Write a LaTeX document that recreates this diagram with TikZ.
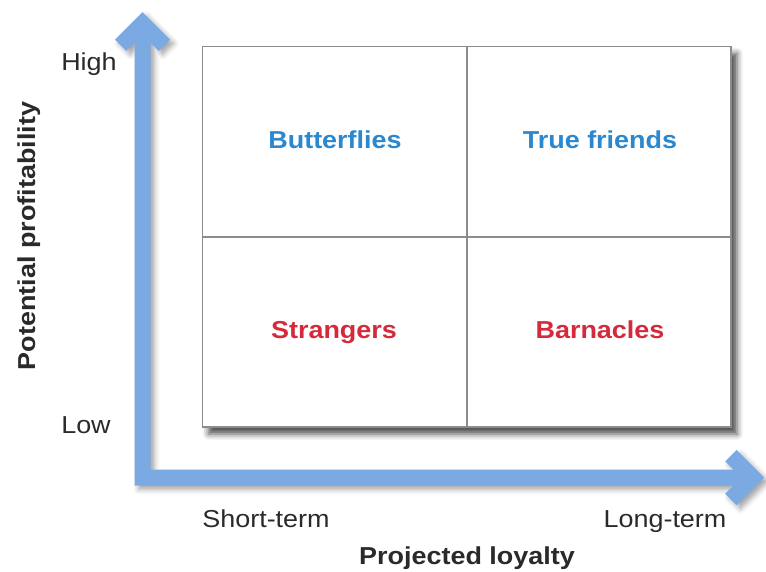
\documentclass[tikz,border=0pt]{standalone}
\usepackage{fontspec}
\setmainfont{Liberation Sans}[FakeStretch=1.1]
\usetikzlibrary{shadows.blur}
\definecolor{arrowblue}{HTML}{7BA9E2}
\definecolor{qblue}{HTML}{2B88CF}
\definecolor{qred}{HTML}{D42A3B}
\definecolor{boxgray}{HTML}{8C8C8C}
\definecolor{txtgray}{HTML}{2A2A2A}
\tikzset{
  lbl/.style={font=\fontsize{24.5}{28}\selectfont, text=txtgray, inner sep=0pt, anchor=base},
  axlbl/.style={font=\fontsize{24.5}{28}\selectfont\bfseries, text=txtgray, inner sep=0pt, anchor=base},
  qlblue/.style={font=\fontsize{24.5}{28}\selectfont\bfseries, text=qblue, inner sep=0pt, anchor=base},
  qlred/.style={font=\fontsize{24.5}{28}\selectfont\bfseries, text=qred, inner sep=0pt, anchor=base},
  gridline/.style={draw=boxgray, line width=1.5pt},
  axisarrow/.style={fill=arrowblue, draw=none,
    blur shadow={shadow xshift=4pt, shadow yshift=-4pt, shadow blur radius=5pt, shadow opacity=35}},
  quadbox/.style={fill=white, draw=boxgray, line width=1.5pt,
    blur shadow={shadow xshift=6pt, shadow yshift=-7pt, shadow blur radius=6pt, shadow opacity=70}}
}
\begin{document}
\begin{tikzpicture}[x=1pt, y=-1pt]
\useasboundingbox (0,0) rectangle (766,571);
% axes (one L-shaped double arrow)
\path[axisarrow]
  (134.5,485.5) -- (134.5,42.6) -- (126.3,50.8) -- (115,39.5) -- (142.5,12)
  -- (170,39.5) -- (158.7,50.8) -- (150.5,42.6) -- (150.5,469.5)
  -- (733.4,469.5) -- (725.2,461.3) -- (736.5,450) -- (764,477.5)
  -- (736.5,505) -- (725.2,493.7) -- (733.4,485.5) -- cycle;
% matrix box
\path[quadbox] (202.5,46.5) rectangle (731,427);
\coordinate (topmid) at (467,46.5);
\coordinate (botmid) at (467,427);
\coordinate (leftmid) at (202.5,237);
\coordinate (rightmid) at (731,237);
\draw[gridline] (topmid) -- (botmid);
\draw[gridline] (leftmid) -- (rightmid);
\draw[draw=boxgray, line width=1.5pt] (202.5,46.5) rectangle (731,427);
% quadrant labels
\node[qlblue] (butterflies) at (335,148.5) {Butterflies};
\node[qlblue] (truefriends) at (600,148.5) {True friends};
\node[qlred] (strangers) at (334,338.5) {Strangers};
\node[qlred] (barnacles) at (600,338.5) {Barnacles};
% axis labels
\node[lbl] (high) at (89,70) {High};
\node[lbl] (low) at (86,433) {Low};
\node[lbl] (short) at (266,527) {Short-term};
\node[lbl] (long) at (665,527) {Long-term};
\node[axlbl] (xlab) at (467,564) {Projected loyalty};
\node[axlbl, rotate=90] (ylab) at (35,236) {Potential profitability};
\end{tikzpicture}
\end{document}
